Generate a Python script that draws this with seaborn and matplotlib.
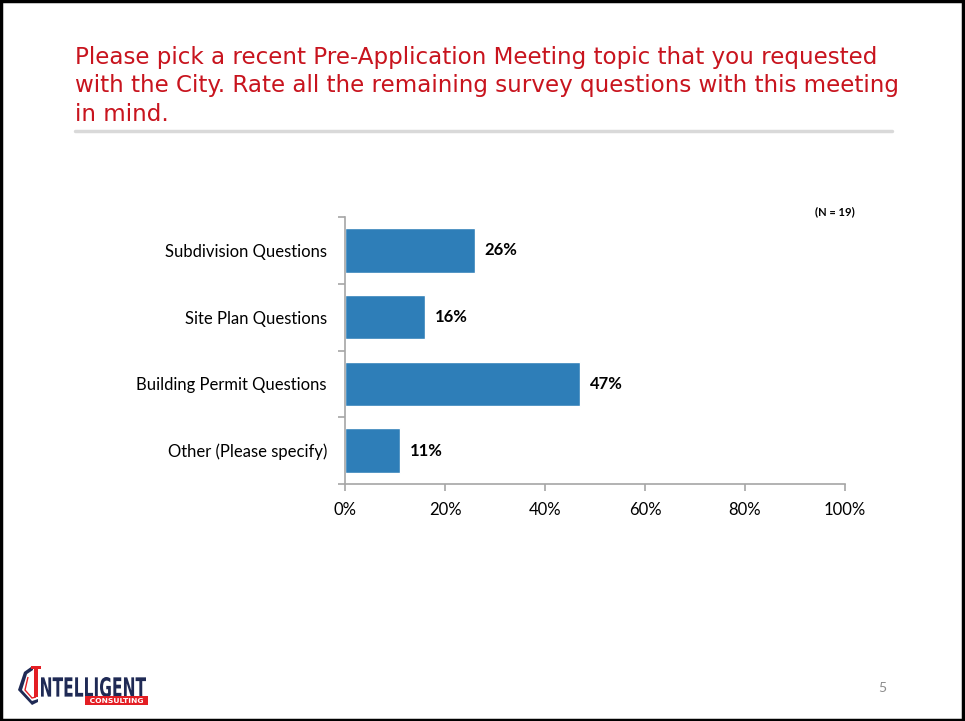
import matplotlib
matplotlib.use("Agg")
import matplotlib.pyplot as plt
from matplotlib.patches import Rectangle, Polygon, PathPatch
from matplotlib.textpath import TextPath
from matplotlib.font_manager import FontProperties
from matplotlib.transforms import Affine2D
from matplotlib.ticker import FixedLocator, PercentFormatter
import seaborn as sns
import pandas as pd

# Survey results
categories = ["Subdivision Questions", "Site Plan Questions",
              "Building Permit Questions", "Other (Please specify)"]
shares = [26, 16, 47, 11]
x_ticks = [0, 20, 40, 60, 80, 100]
sample_note = "(N = 19)"
title = ("Please pick a recent Pre-Application Meeting topic that you requested\n"
         "with the City. Rate all the remaining survey questions with this meeting\n"
         "in mind.")

sns.set_theme(style="white")
plt.rcParams["font.family"] = ["Lato", "DejaVu Sans"]

W, H = 965, 721
fig = plt.figure(figsize=(W / 100, H / 100), dpi=100)
fig.patch.set_facecolor("white")

def fx(px):
    return px / W

def fy(py):
    return 1 - py / H

ax = fig.add_axes([fx(345), fy(484), fx(845) - fx(345), fy(217) - fy(484)])

df = pd.DataFrame({"topic": categories, "share": shares})
sns.barplot(data=df, y="topic", x="share", order=categories, color="#2E7EB8",
            width=0.67, saturation=1, ax=ax, orient="h")

ax.set_xlim(0, 100)
ax.set_ylim(len(categories) - 0.5, -0.5)
ax.set_xlabel("")
ax.set_ylabel("")
ax.xaxis.set_major_locator(FixedLocator(x_ticks))
ax.xaxis.set_major_formatter(PercentFormatter(decimals=0))

axis_grey = "#A6A6A6"
for side in ["top", "right"]:
    ax.spines[side].set_visible(False)
for side in ["left", "bottom"]:
    ax.spines[side].set_color(axis_grey)
    ax.spines[side].set_linewidth(1.2)

ax.tick_params(axis="x", which="major", direction="out", length=5, width=1.2,
               color=axis_grey, labelsize=12, labelcolor="black", pad=8, bottom=True)
ax.tick_params(axis="y", which="major", length=0, labelsize=12, labelcolor="black", pad=13)
ax.yaxis.set_minor_locator(FixedLocator([i - 0.5 for i in range(len(categories) + 1)]))
ax.tick_params(axis="y", which="minor", direction="out", length=5, width=1.2,
               color=axis_grey, left=True)

for cont in ax.containers:
    texts = ax.bar_label(cont, labels=[f"{v}%" for v in shares], padding=7,
                         fontsize=12, fontweight="bold", color="black")
    for t in texts:
        t.set_y(t.get_position()[1] + 0.03)

fig.text(fx(855), fy(212), sample_note, ha="right", va="center",
         fontsize=8, fontweight="bold", color="black")

# Slide title
fig.text(fx(75), fy(46), title, ha="left", va="top", fontsize=16.6,
         color="#C8141E", linespacing=1.3, family=["DejaVu Sans"])
fig.add_artist(plt.Line2D([fx(75), fx(892)], [fy(131), fy(131)],
                          color="#D9D9D9", linewidth=2.5, transform=fig.transFigure))

# Page number
fig.text(fx(882), fy(688), "5", ha="center", va="center", fontsize=10, color="#8C8C8C")


def boxed_text(s, x0, y0, x1, y1, color, weight="bold"):
    """Draw a string stretched to fill a pixel box (top-left x0,y0 to bottom-right x1,y1)."""
    path = TextPath((0, 0), s, size=10, prop=FontProperties(family="DejaVu Sans", weight=weight))
    ext = path.get_extents()
    sx = (fx(x1) - fx(x0)) / ext.width
    sy = (fy(y0) - fy(y1)) / ext.height
    tr = (Affine2D().translate(-ext.x0, -ext.y0).scale(sx, sy)
          .translate(fx(x0), fy(y1)) + fig.transFigure)
    fig.add_artist(PathPatch(path, facecolor=color, edgecolor="none", transform=tr))


# Company logo
navy = "#1F2A55"
red = "#E31E24"
outer = Polygon([(fx(24), fy(672)), (fx(31), fy(667)), (fx(33), fy(667)),
                 (fx(33), fy(670)), (fx(27), fy(674)), (fx(22), fy(690)),
                 (fx(32), fy(701)), (fx(38), fy(699)), (fx(38), fy(702)),
                 (fx(32), fy(705)), (fx(18), fy(690))],
                closed=True, facecolor=navy, edgecolor="none", transform=fig.transFigure)
fig.add_artist(outer)
inner = Polygon([(fx(28), fy(677)), (fx(25), fy(690)), (fx(32), fy(698)),
                 (fx(36), fy(697))],
                closed=False, fill=False, edgecolor=red, linewidth=1.0,
                transform=fig.transFigure)
fig.add_artist(inner)
fig.add_artist(Rectangle((fx(34), fy(697)), fx(4), fy(666) - fy(697),
                         facecolor=red, edgecolor="none", transform=fig.transFigure))
fig.add_artist(Rectangle((fx(31), fy(669)), fx(10), fy(666) - fy(669),
                         facecolor=red, edgecolor="none", transform=fig.transFigure))
boxed_text("NTELLIGENT", 41, 677, 146, 697, navy)
fig.add_artist(Rectangle((fx(85), fy(705)), fx(148) - fx(85), fy(696) - fy(705),
                         facecolor=red, edgecolor="none", transform=fig.transFigure))
boxed_text("CONSULTING", 90, 698, 143, 703, "white")

# Slide frame
fig.add_artist(Rectangle((0.001, 0.002), 0.997, 0.996, fill=False, edgecolor="black",
                         linewidth=2.5, transform=fig.transFigure))

fig.savefig("out.png", dpi=100)
